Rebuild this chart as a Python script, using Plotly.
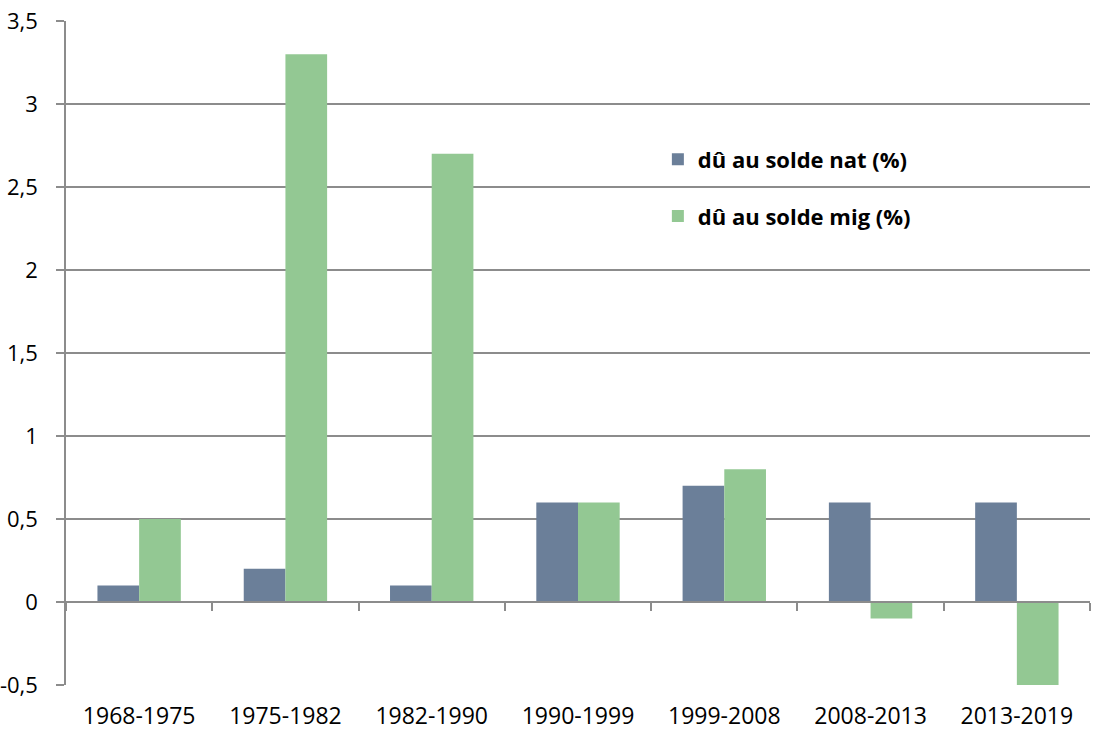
import plotly.graph_objects as go

# Periods and growth components (% per year)
periods = ["1968-1975", "1975-1982", "1982-1990", "1990-1999", "1999-2008", "2008-2013", "2013-2019"]
solde_nat = [0.1, 0.2, 0.1, 0.6, 0.7, 0.6, 0.6]
solde_mig = [0.5, 3.3, 2.7, 0.6, 0.8, -0.1, -0.5]
series_names = ["dû au solde nat (%)", "dû au solde mig (%)"]
y_ticks = [-0.5, 0, 0.5, 1, 1.5, 2, 2.5, 3, 3.5]
y_tick_labels = ["-0,5", "0", "0,5", "1", "1,5", "2", "2,5", "3", "3,5"]

blue = "#6b7f99"
green = "#93c893"
grid = "#8c8c8c"
font_family = "Open Sans"

fig = go.Figure()
fig.add_trace(go.Bar(x=periods, y=solde_nat, name=series_names[0], marker_color=blue,
                     marker_line_width=0, legendgroup="nat"))
fig.add_trace(go.Bar(x=periods, y=solde_mig, name=series_names[1], marker_color=green,
                     marker_line_width=0, legendgroup="mig"))
# helper trace placing the category axis that sits on the zero line
fig.add_trace(go.Scatter(x=periods, y=[0] * len(periods), xaxis="x2", mode="markers",
                         marker_opacity=0, showlegend=False, hoverinfo="skip"))

fig.update_layout(
    width=1093, height=736,
    margin=dict(l=66, r=3, t=21, b=51),
    plot_bgcolor="white", paper_bgcolor="white",
    barmode="group", bargap=0.43, bargroupgap=0,
    font=dict(family=font_family, size=22, color="#000000"),
    xaxis=dict(type="category", range=[-0.5, 6.5], showgrid=False, showline=False,
               ticks="", zeroline=False, ticklabelstandoff=15, automargin=False,
               tickfont=dict(size=23)),
    xaxis2=dict(type="category", overlaying="x", anchor="free", position=0.125,
                side="bottom", range=[-0.5, 6.5], showticklabels=False,
                showline=True, linecolor=grid, linewidth=1.5,
                ticks="outside", tickson="boundaries", ticklen=8,
                tickcolor=grid, tickwidth=1.5, showgrid=False, zeroline=False,
                automargin=False),
    yaxis=dict(range=[-0.5, 3.5], tickvals=y_ticks, ticktext=y_tick_labels,
               showgrid=True, gridcolor=grid, automargin=False,
               gridwidth=1.5, zeroline=False, showline=True, linecolor=grid,
               linewidth=1.5, ticks="outside", ticklen=8, tickcolor=grid,
               tickwidth=1.5, ticklabelstandoff=14, tickfont=dict(size=22)),
    legend=dict(x=0.578, y=0.823, xanchor="left", yanchor="top",
                font=dict(family=font_family, size=22, color="#000000", weight="bold"),
                tracegroupgap=25, bgcolor="rgba(0,0,0,0)"),
    showlegend=True,
)

fig.write_html("out.html")
